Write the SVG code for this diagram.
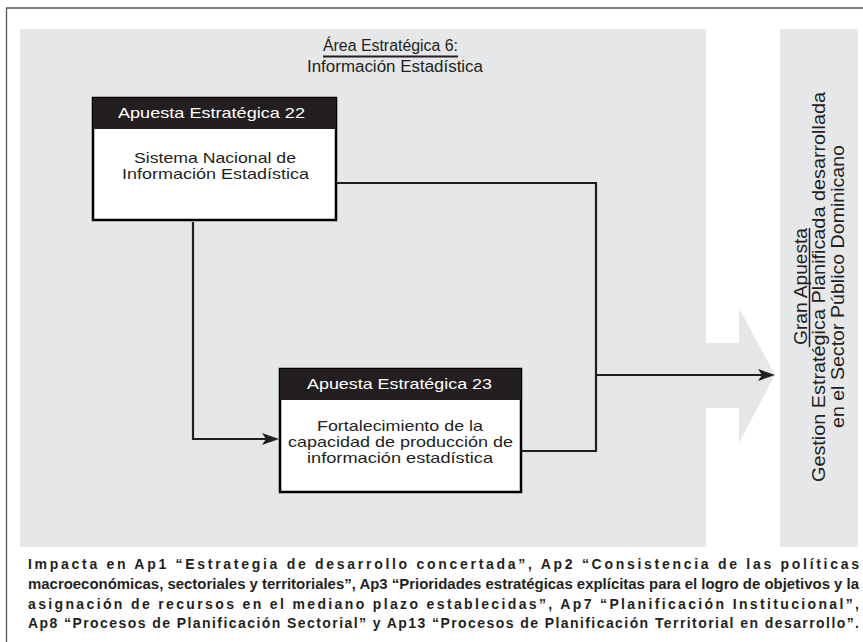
<svg xmlns="http://www.w3.org/2000/svg" width="863" height="642" viewBox="0 0 863 642">
<style>
  .panel { fill: #e6e7e8; }
  .box { fill: #ffffff; stroke: #000000; stroke-width: 2.5; }
  .hdr { fill: #231f20; }
  .hdrtxt { font-family: "Liberation Sans", Arial, sans-serif; font-size: 15px; fill: #ffffff; }
  .body { font-family: "Liberation Sans", Arial, sans-serif; font-size: 14.5px; fill: #231f20; }
  .title { font-family: "Liberation Sans", Arial, sans-serif; font-size: 16px; fill: #231f20; }
  .side { font-family: "Liberation Sans", Arial, sans-serif; font-size: 18px; fill: #231f20; }
  .foot { font-family: "Liberation Sans", Arial, sans-serif; font-size: 14px; font-weight: bold; fill: #231f20; }
  .conn { fill: none; stroke: #231f20; stroke-width: 2.2; }
</style>
<defs>
  <marker id="arr" markerUnits="userSpaceOnUse" markerWidth="18" markerHeight="14" refX="13" refY="6" orient="auto">
    <path d="M0,0 L17,6 L0,12 L4,6 Z" fill="#231f20"/>
  </marker>
</defs>
<rect x="0" y="0" width="863" height="642" fill="#ffffff"/>
<g id="frame">
  <path d="M6.5,642 L6.5,8 L863,8" fill="none" stroke="#555555" stroke-width="1.3"/>
</g>
<g id="area-panel">
  <rect class="panel" x="20" y="29" width="686" height="518"/>
  <text class="title" x="323" y="51" textLength="135" lengthAdjust="spacingAndGlyphs">Área Estratégica 6:</text>
  <line x1="323" y1="56.5" x2="458" y2="56.5" stroke="#231f20" stroke-width="2"/>
  <text class="title" x="307" y="72" textLength="176" lengthAdjust="spacingAndGlyphs">Información Estadística</text>
</g>
<g id="big-arrow">
  <path class="panel" d="M706,343 L739,343 L739,308 L775,375 L739,443 L739,408 L706,408 Z"/>
</g>
<g id="gran-apuesta">
  <rect class="panel" x="780" y="29" width="78" height="518"/>
  <text class="side" transform="translate(806.5,286.5) rotate(-90)" text-anchor="middle" textLength="117" lengthAdjust="spacingAndGlyphs">Gran Apuesta</text>
  <line x1="809.5" y1="228" x2="809.5" y2="347" stroke="#231f20" stroke-width="1.5"/>
  <text class="side" transform="translate(825,287) rotate(-90)" text-anchor="middle" textLength="390" lengthAdjust="spacingAndGlyphs">Gestion Estratégica Planificada desarrollada</text>
  <text class="side" transform="translate(844,286.5) rotate(-90)" text-anchor="middle" textLength="283" lengthAdjust="spacingAndGlyphs">en el Sector Público Dominicano</text>
</g>
<g id="connectors">
  <polyline class="conn" points="337,183 596,183 596,451 522,451"/>
  <polyline class="conn" points="193,222 193,439 275,439" marker-end="url(#arr)"/>
  <line class="conn" x1="596" y1="375" x2="771" y2="375" marker-end="url(#arr)"/>
</g>
<g id="ap22">
  <rect class="box" x="93" y="98" width="243" height="122"/>
  <rect class="hdr" x="93" y="98" width="243" height="31"/>
  <text class="hdrtxt" x="118" y="118" textLength="187" lengthAdjust="spacingAndGlyphs">Apuesta Estratégica 22</text>
  <text class="body" x="134" y="163" textLength="162" lengthAdjust="spacingAndGlyphs">Sistema Nacional de</text>
  <text class="body" x="122" y="179" textLength="187" lengthAdjust="spacingAndGlyphs">Información Estadística</text>
</g>
<g id="ap23">
  <rect class="box" x="280" y="369" width="241" height="123"/>
  <rect class="hdr" x="280" y="369" width="241" height="31"/>
  <text class="hdrtxt" x="307" y="389" textLength="185" lengthAdjust="spacingAndGlyphs">Apuesta Estratégica 23</text>
  <text class="body" x="317" y="430.5" textLength="166" lengthAdjust="spacingAndGlyphs">Fortalecimiento de la</text>
  <text class="body" x="288" y="446.5" textLength="225" lengthAdjust="spacingAndGlyphs">capacidad de producción de</text>
  <text class="body" x="307" y="462.5" textLength="186" lengthAdjust="spacingAndGlyphs">información estadística</text>
</g>
<g id="footnote">
  <text class="foot" x="28" y="569" textLength="831" lengthAdjust="spacing">Impacta en Ap1 “Estrategia de desarrollo concertada”, Ap2 “Consistencia de las políticas</text>
  <text class="foot" x="28" y="589" textLength="831" lengthAdjust="spacingAndGlyphs">macroeconómicas, sectoriales y territoriales”, Ap3 “Prioridades estratégicas explícitas para el logro de objetivos y la</text>
  <text class="foot" x="28" y="609" textLength="831" lengthAdjust="spacing">asignación de recursos en el mediano plazo establecidas”, Ap7 “Planificación Institucional”,</text>
  <text class="foot" x="28" y="628" textLength="831" lengthAdjust="spacing">Ap8 “Procesos de Planificación Sectorial” y Ap13 “Procesos de Planificación Territorial en desarrollo”.</text>
</g>
</svg>
